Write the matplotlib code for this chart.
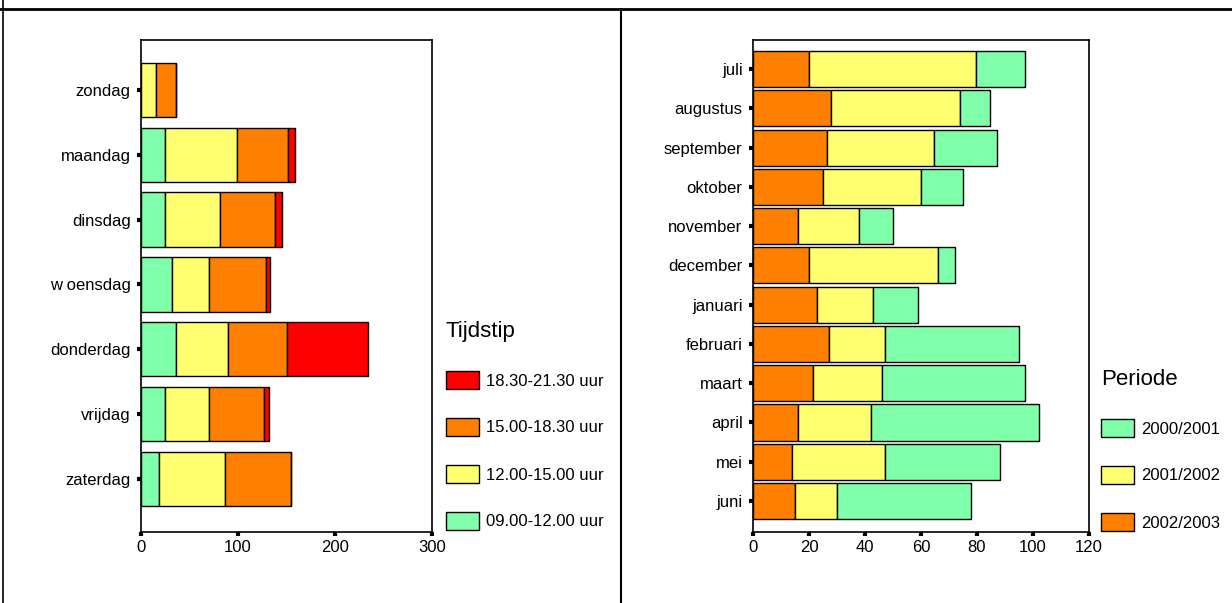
import matplotlib
matplotlib.use('Agg')
import matplotlib.pyplot as plt
from matplotlib.lines import Line2D
from matplotlib.patches import Patch

plt.rcParams['font.family'] = ['Liberation Sans', 'DejaVu Sans']

# ---- data: left chart (per weekday, per time slot)
dagen = ['zondag', 'maandag', 'dinsdag', 'w oensdag', 'donderdag', 'vrijdag', 'zaterdag']
slot_0900 = [0, 25, 25, 32, 36, 25, 19]
slot_1200 = [15, 74, 56, 38, 54, 45, 68]
slot_1500 = [21, 53, 57, 59, 61, 57, 68]
slot_1830 = [0, 7, 7, 4, 83, 5, 0]
slot_labels = ['09.00-12.00 uur', '12.00-15.00 uur', '15.00-18.30 uur', '18.30-21.30 uur']

# ---- data: right chart (per month, per period)
maanden = ['juli', 'augustus', 'september', 'oktober', 'november', 'december',
           'januari', 'februari', 'maart', 'april', 'mei', 'juni']
per_0203 = [20, 28, 26.4, 25, 16, 20, 23, 27, 21.4, 16, 14, 15]
per_0102 = [59.5, 46, 38.4, 35, 22, 46, 20, 20, 24.5, 26, 33, 15]
per_0001 = [17.7, 10.5, 22.3, 15, 12, 6, 16, 48, 51.3, 60, 41.3, 48]
per_labels = ['2000/2001', '2001/2002', '2002/2003']

GREEN = '#80FFAA'
YELLOW = '#FFFF70'
ORANGE = '#FF8000'
RED = '#FF0000'

W, H = 1232, 603
fig = plt.figure(figsize=(W / 100, H / 100), dpi=100)


def px_axes(x0, y0, x1, y1):
    return fig.add_axes([x0 / W, 1 - y1 / H, (x1 - x0) / W, (y1 - y0) / H])


def style(ax):
    for s in ax.spines.values():
        s.set_linewidth(1.2)
    ax.tick_params(direction='out', length=3, width=3, labelsize=12)
    ax.tick_params(axis='y', pad=4.5)
    ax.tick_params(axis='x', pad=3)


def stacked(ax, cats, series, colors, height):
    left = [0] * len(cats)
    pos = list(range(len(cats)))
    for vals, col in zip(series, colors):
        ax.barh(pos, vals, left=left, height=height, color=col,
                edgecolor='black', linewidth=1.0)
        left = [a + b for a, b in zip(left, vals)]
    ax.set_yticks(pos)
    ax.set_yticklabels(cats)


def legend(handles, labels, title, x, y):
    # x, y: top-left of the legend block in pixels
    return fig.legend(handles, labels, title=title, loc='upper left',
                      bbox_to_anchor=(x / W, 1 - y / H), frameon=False,
                      fontsize=12, title_fontsize=16, alignment='left',
                      handlelength=1.95, handleheight=1.3, labelspacing=1.73,
                      handletextpad=0.45, borderpad=0, borderaxespad=0)


# left chart
ax1 = px_axes(141, 40, 432, 532)
stacked(ax1, dagen, [slot_0900, slot_1200, slot_1500, slot_1830],
        [GREEN, YELLOW, ORANGE, RED], 0.84)
ax1.set_xlim(0, 300)
ax1.set_xticks([0, 100, 200, 300])
ax1.set_ylim(6.82, -0.77)
style(ax1)

h1 = [Patch(facecolor=c, edgecolor='black', linewidth=1.0) for c in [RED, ORANGE, YELLOW, GREEN]]
legend(h1, slot_labels[::-1], 'Tijdstip', 446, 321)

# right chart
ax2 = px_axes(753, 40, 1089, 532)
stacked(ax2, maanden, [per_0203, per_0102, per_0001],
        [ORANGE, YELLOW, GREEN], 0.92)
ax2.set_xlim(0, 120)
ax2.set_xticks(range(0, 121, 20))
ax2.set_ylim(11.79, -0.74)
style(ax2)

h2 = [Patch(facecolor=c, edgecolor='black', linewidth=1.0) for c in [GREEN, YELLOW, ORANGE]]
legend(h2, per_labels, 'Periode', 1101, 369)

# table-like frame lines
fig.add_artist(Line2D([0, 1], [1 - 9 / H, 1 - 9 / H], color='black', lw=2))
fig.add_artist(Line2D([3 / W, 3 / W], [0, 1], color='black', lw=1.2))
fig.add_artist(Line2D([621 / W, 621 / W], [0, 1 - 9 / H], color='black', lw=1.5))

fig.savefig('out.png', dpi=100)
